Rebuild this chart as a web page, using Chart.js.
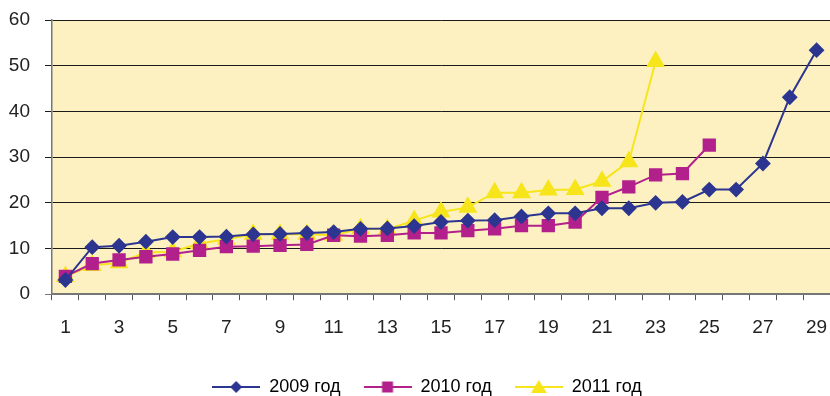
<!DOCTYPE html>
<html>
<head>
<meta charset="utf-8">
<script src="https://cdn.jsdelivr.net/npm/chart.js@4/dist/chart.umd.min.js"></script>
<style>
  html, body { margin: 0; padding: 0; background: #ffffff; }
  #wrap { width: 830px; height: 396px; position: relative; }
</style>
</head>
<body>
<div id="wrap"><canvas id="c" width="830" height="396"></canvas></div>
<script>
// Category numbers along the horizontal axis
const categories = Array.from({ length: 29 }, (_, i) => String(i + 1));

// Series values
const values2009 = [3.1, 10.3, 10.6, 11.5, 12.5, 12.5, 12.6, 13.1, 13.2, 13.4, 13.6, 14.3, 14.4, 14.9,
                    15.8, 16.1, 16.2, 17.0, 17.7, 17.7, 18.8, 18.8, 20.0, 20.2, 22.9, 22.9, 28.6, 43.1, 53.4];
const values2010 = [3.9, 6.7, 7.5, 8.2, 8.8, 9.6, 10.4, 10.5, 10.7, 10.9, 12.9, 12.7, 12.9, 13.4,
                    13.4, 13.9, 14.3, 15.0, 15.0, 15.8, 21.2, 23.5, 26.1, 26.4, 32.6];
const values2011 = [3.9, 6.3, 6.9, 9.1, 9.3, 11.1, 12.0, 13.1, 13.1, 13.1, 12.9, 14.3, 14.2, 16.1,
                    18.0, 19.0, 22.2, 22.2, 22.8, 22.9, 24.7, 29.0, 50.9];

const seriesNames = ['2009 год', '2010 год', '2011 год'];
const yTicks = [0, 10, 20, 30, 40, 50, 60];

const BLUE = '#2c3590';
const MAGENTA = '#b2208c';
const YELLOW = '#f7e51c';
const FONT = "'Liberation Sans', Arial, sans-serif";

// Legend swatch: short line with the series marker in the middle
function swatch(color, style) {
  const w = 48, h = 16;
  const cv = document.createElement('canvas');
  cv.width = w; cv.height = h;
  const g = cv.getContext('2d');
  g.strokeStyle = color; g.lineWidth = 2;
  g.beginPath(); g.moveTo(0, h / 2); g.lineTo(w, h / 2); g.stroke();
  g.fillStyle = color;
  const cx = w / 2, cy = h / 2;
  g.beginPath();
  if (style === 'diamond') {
    g.moveTo(cx, cy - 6); g.lineTo(cx + 6, cy); g.lineTo(cx, cy + 6); g.lineTo(cx - 6, cy);
  } else if (style === 'square') {
    g.rect(cx - 5.5, cy - 5.5, 11, 11);
  } else {
    g.moveTo(cx, cy - 7); g.lineTo(cx + 8, cy + 6); g.lineTo(cx - 8, cy + 6);
  }
  g.closePath(); g.fill();
  return cv;
}
const swatches = [swatch(BLUE, 'diamond'), swatch(MAGENTA, 'square'), swatch(YELLOW, 'triangle')];

// Fill the plotting area with the pale yellow background
const plotBackground = {
  id: 'plotBackground',
  beforeDraw(chart) {
    const { ctx, chartArea: a } = chart;
    ctx.save();
    ctx.fillStyle = '#fdf1c1';
    ctx.fillRect(a.left, a.top, a.right - a.left, a.bottom - a.top);
    ctx.restore();
  }
};

// Nudge the legend row a little to the left of the plot's centre
const legendShift = {
  id: 'legendShift',
  afterLayout(chart) {
    if (chart.legend) {
      chart.legend.left -= 14;
      chart.legend.right -= 14;
    }
  }
};

new Chart(document.getElementById('c'), {
  type: 'line',
  data: {
    labels: categories,
    datasets: [
      { label: seriesNames[0], data: values2009, borderColor: BLUE, backgroundColor: BLUE,
        borderWidth: 2, pointStyle: 'rectRot', pointRadius: 6.5, pointHoverRadius: 6.5, tension: 0 },
      { label: seriesNames[1], data: values2010, borderColor: MAGENTA, backgroundColor: MAGENTA,
        borderWidth: 2, pointStyle: 'rect', pointRadius: 8, pointHoverRadius: 8, tension: 0 },
      { label: seriesNames[2], data: values2011, borderColor: YELLOW, backgroundColor: YELLOW,
        borderWidth: 2, pointStyle: 'triangle', pointRadius: 9, pointHoverRadius: 9, tension: 0 }
    ]
  },
  options: {
    responsive: false,
    animation: false,
    events: [],
    layout: { autoPadding: false, padding: { top: 20, right: 0, left: 0, bottom: -10 } },
    plugins: {
      tooltip: { enabled: false },
      legend: {
        position: 'bottom',
        fullSize: false,
        labels: {
          usePointStyle: true,
          pointStyleWidth: 48,
          padding: 23,
          color: '#222222',
          font: { family: FONT, size: 18 },
          generateLabels(chart) {
            return chart.data.datasets.map((ds, i) => ({
              text: ds.label,
              pointStyle: swatches[i],
              fillStyle: ds.backgroundColor,
              strokeStyle: ds.borderColor,
              lineWidth: 0,
              hidden: false,
              datasetIndex: i
            }));
          }
        }
      }
    },
    scales: {
      x: {
        offset: true,
        afterFit(scale) { scale.paddingLeft = 0; scale.paddingRight = 0; },
        grid: {
          offset: true,
          drawOnChartArea: false,
          drawTicks: true,
          tickLength: 6,
          color: '#555555'
        },
        border: { color: '#777777', width: 1.5 },
        ticks: {
          autoSkip: false,
          maxRotation: 0,
          padding: 16,
          color: '#222222',
          font: { family: FONT, size: 19 },
          callback(value, index) { return index % 2 === 0 ? categories[index] : ''; }
        }
      },
      y: {
        min: 0,
        max: 60,
        afterBuildTicks(scale) { scale.ticks = yTicks.map(v => ({ value: v })); },
        afterFit(scale) { scale.width = 52; scale.paddingTop = 0; scale.paddingBottom = 0; },
        grid: {
          color: (ctx) => ctx.tick && ctx.tick.value === 0 ? '#777777' : '#1a1a1a',
          lineWidth: 1,
          tickLength: 7
        },
        border: { color: '#777777', width: 1.5 },
        ticks: {
          padding: 15,
          color: '#222222',
          font: { family: FONT, size: 19 }
        }
      }
    }
  },
  plugins: [plotBackground, legendShift]
});
</script>
</body>
</html>
